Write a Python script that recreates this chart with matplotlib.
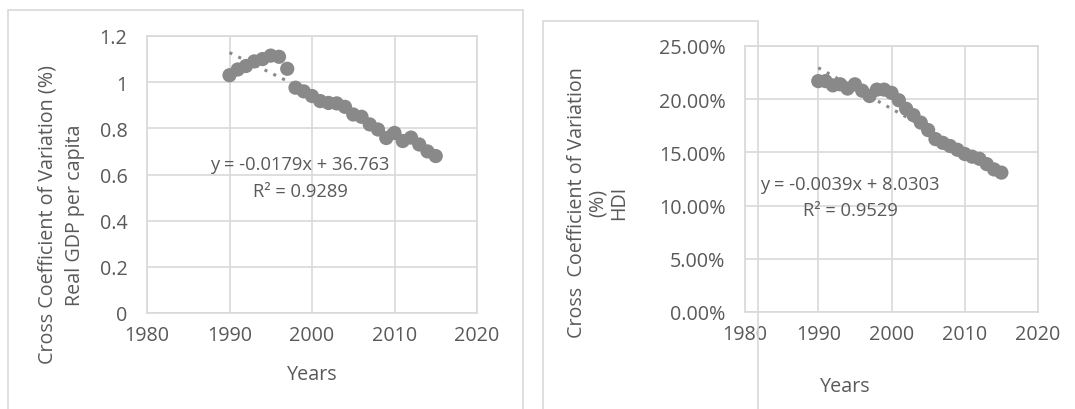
import numpy as np
import matplotlib.pyplot as plt
from matplotlib.patches import Rectangle
from matplotlib.ticker import PercentFormatter, MultipleLocator

years = list(range(1990, 2016))

# Cross coefficient of variation, real GDP per capita
gdp_cv = [1.03, 1.055, 1.07, 1.09, 1.10, 1.115, 1.11, 1.058, 0.976, 0.96,
          0.94, 0.918, 0.91, 0.908, 0.893, 0.86, 0.85, 0.817, 0.795, 0.758,
          0.78, 0.745, 0.76, 0.73, 0.70, 0.68]

# Cross coefficient of variation, HDI
hdi_cv = [0.217, 0.217, 0.213, 0.214, 0.210, 0.214, 0.208, 0.203, 0.209, 0.209,
          0.206, 0.199, 0.191, 0.185, 0.178, 0.171, 0.1625, 0.159, 0.156, 0.1525,
          0.1485, 0.146, 0.144, 0.139, 0.134, 0.131]

gdp_eq = ["y = -0.0179x + 36.763", "R² = 0.9289"]
hdi_eq = ["y = -0.0039x + 8.0303", "R² = 0.9529"]

W, H = 1075, 410
TXT = "#595959"
GRID = "#d9d9d9"
MARK = "#898989"
FS = 14.2

plt.rcParams['font.family'] = ['Open Sans', 'DejaVu Sans']
plt.rcParams['font.size'] = FS

fig = plt.figure(figsize=(W / 100, H / 100), dpi=100)


def px_axes(x0, y0, x1, y1):
    return fig.add_axes([x0 / W, 1 - y1 / H, (x1 - x0) / W, (y1 - y0) / H])


def ftext(x, y, s, **kw):
    fig.text(x / W, 1 - y / H, s, color=TXT, **kw)


# panel borders
fig.patches.append(Rectangle((8 / W, -0.05), (523 - 8) / W, 1.05 - 11 / H,
                             transform=fig.transFigure, fill=False, ec=GRID, lw=1.2))
fig.patches.append(Rectangle((543 / W, -0.05), 0.2, 1.05 - 22 / H,
                             transform=fig.transFigure, fill=False, ec=GRID, lw=1.2))


def style(ax):
    ax.set_xlim(1980, 2020)
    ax.xaxis.set_major_locator(MultipleLocator(10))
    ax.grid(True, color=GRID, lw=1.2)
    ax.set_axisbelow(True)
    for sp in ax.spines.values():
        sp.set_color(GRID)
        sp.set_linewidth(1.2)
    ax.tick_params(length=0, colors=TXT, labelsize=FS)
    ax.tick_params(axis='x', pad=9)
    ax.tick_params(axis='y', pad=14)


def trend(ax, x, y):
    k, b = np.polyfit(x, y, 1)
    xs = np.array([x[0], x[-1]])
    ax.plot(xs, k * xs + b, color=MARK, lw=2.2, ls=(0, (1, 2.2)), zorder=4)


# left chart
ax1 = px_axes(147, 37, 477, 314)
style(ax1)
ax1.set_ylim(0, 1.2)
ax1.yaxis.set_major_locator(MultipleLocator(0.2))
ax1.yaxis.set_major_formatter(lambda v, p: f"{v:g}")
ax1.scatter(years, gdp_cv, s=105, color=MARK, edgecolors='none', zorder=3)
trend(ax1, years, gdp_cv)
ftext(300, 165, gdp_eq[0], ha='center', va='center', fontsize=13.2)
ftext(300, 192, gdp_eq[1], ha='center', va='center', fontsize=13.2)
ftext(61, 215, "Cross Coefficient of Variation (%)\nReal GDP per capita",
      rotation=90, ha='center', va='center', multialignment='center', linespacing=1.5)
ftext(312, 375, "Years", ha='center', va='center')

# right chart
ax2 = px_axes(745, 47, 1038, 313)
style(ax2)
ax2.set_ylim(0, 0.25)
ax2.yaxis.set_major_locator(MultipleLocator(0.05))
ax2.yaxis.set_major_formatter(PercentFormatter(xmax=1, decimals=2))
ax2.scatter(years, hdi_cv, s=105, color=MARK, edgecolors='none', zorder=3)
trend(ax2, years, hdi_cv)
ftext(850, 185, hdi_eq[0], ha='center', va='center', fontsize=13.2)
ftext(850, 211, hdi_eq[1], ha='center', va='center', fontsize=13.2)
ftext(598, 203, "Cross  Coefficient of Variation\n(%)\nHDI",
      rotation=90, ha='center', va='center', multialignment='center', linespacing=1.05)
ftext(845, 387, "Years", ha='center', va='center')

fig.savefig("out.png", dpi=100)
